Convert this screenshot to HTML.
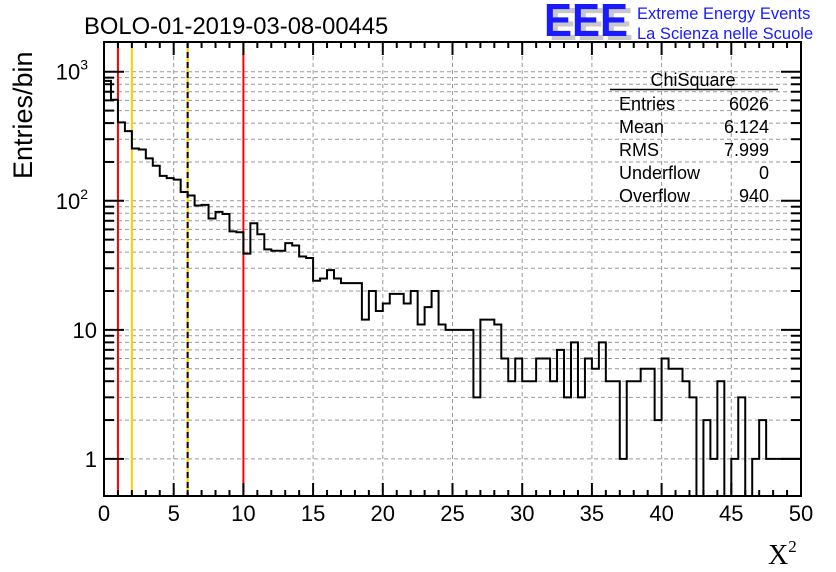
<!DOCTYPE html>
<html><head><meta charset="utf-8"><style>
body{margin:0;background:#fff;}
svg{display:block;font-family:"Liberation Sans",sans-serif;}
</style></head><body>
<svg id="chart" width="836" height="572" viewBox="0 0 836 572" xmlns="http://www.w3.org/2000/svg">
<rect width="836" height="572" fill="#fff"/>
<g id="grid"></g>
<g id="cuts"></g>
<path id="hist" fill="none" stroke="#000" stroke-width="2"/>
<g id="axes"></g>
<text x="84" y="34" font-size="23.8">BOLO-01-2019-03-08-00445</text>
<g>
<text x="549" y="40" font-size="46" font-weight="bold" fill="#c8c8c8" textLength="84" lengthAdjust="spacingAndGlyphs">EEE</text>
<text x="544" y="36" font-size="46" font-weight="bold" fill="#1a1aff" textLength="84" lengthAdjust="spacingAndGlyphs">EEE</text>
<text x="637" y="19" font-size="16.5" fill="#1a1aff">Extreme Energy Events</text>
<text x="637" y="39" font-size="16.5" fill="#1a1aff">La Scienza nelle Scuole</text>
</g>
<g font-size="18">
<text x="693" y="86" text-anchor="middle">ChiSquare</text>
<line x1="610" y1="89.5" x2="778" y2="89.5" stroke="#000" stroke-width="1.5"/>
<text x="619" y="110">Entries</text><text x="769" y="110" text-anchor="end">6026</text>
<text x="619" y="133">Mean</text><text x="769" y="133" text-anchor="end">6.124</text>
<text x="619" y="156">RMS</text><text x="769" y="156" text-anchor="end">7.999</text>
<text x="619" y="179">Underflow</text><text x="769" y="179" text-anchor="end">0</text>
<text x="619" y="202">Overflow</text><text x="769" y="202" text-anchor="end">940</text>
</g>
<text transform="translate(32,179) rotate(-90)" font-size="27">Entries/bin</text>
<text x="768" y="564" font-size="28" font-family="Liberation Serif, serif">X<tspan font-size="17" dy="-12">2</tspan></text>
</svg>
<script>
const counts=[850,607,405,347,254,250,213,187,156,150,146,117,110,92,93,73,82,79,58,57,39,67,55,42,41,41,47,45,37,36,24,25,29,25,23,23,23,12,20,14,16,19,19,16,20,11,15,20,11,10,10,10,10,3,12,12,11,6,4,6,4,4,6,6,4,7,3,8,3,6,5,8,4,4,1,4,4,5,5,2,6,5,5,4,3,0,2,1,4,0,1,3,0,1,2,1,1,1,1,1];
const xTicks=[0,5,10,15,20,25,30,35,40,45,50];
const yDecades=[1,10,100,1000];
const yDecadeLabels=["1","10","10²","10³"];
const cutValues=[1,2,6,10];
const cutColors=["#f00","#fc0","dash","#f00"];
const X0=104,X1=801,Y0=496,YT=42,XMAX=50,BW=0.5,LMIN=Math.log10(0.516),LMAX=Math.log10(1700);
const sx=v=>X0+(X1-X0)*v/XMAX;
const sy=v=>v<=0?Y0:Y0-(Y0-YT)*(Math.log10(v)-LMIN)/(LMAX-LMIN);
const NS="http://www.w3.org/2000/svg";
function mk(tag,attrs,parent){const e=document.createElementNS(NS,tag);for(const k in attrs)e.setAttribute(k,attrs[k]);parent.appendChild(e);return e;}
const grid=document.getElementById('grid'),axes=document.getElementById('axes'),cuts=document.getElementById('cuts');
xTicks.slice(1,-1).forEach(t=>{const l=mk('line',{x1:sx(t),x2:sx(t),y1:YT,y2:Y0,stroke:'#999','stroke-dasharray':'4,3'},grid);

});
yDecades.forEach(d=>{for(let m=1;m<10;m++){const v=d*m;const y=sy(v);if(y<YT||y>Y0)continue;
const l=mk('line',{x1:X0,x2:X1,y1:y,y2:y,stroke:'#999','stroke-dasharray':'4,3'},grid);


const len=m===1?20:10;
mk('line',{x1:X0,x2:X0+len,y1:y,y2:y,stroke:'#000','stroke-width':2},axes);
mk('line',{x1:X1,x2:X1-len,y1:y,y2:y,stroke:'#000','stroke-width':2},axes);}});
yDecades.forEach((d,i)=>{const t=mk('text',{x:i<2?97:98,y:sy(d)+8,'font-size':22,'text-anchor':'end'},axes);


if(i<2)t.textContent=yDecadeLabels[i];else{t.textContent='10';const s=mk('tspan',{'font-size':14,dy:-10},t);s.textContent=String(i);t.setAttribute('x',88);}});
cutValues.forEach((v,i)=>{const x=sx(v);
if(cutColors[i]==='dash'){mk('line',{x1:x,x2:x,y1:YT,y2:Y0,stroke:'#fc0','stroke-width':2},cuts);
const l=mk('line',{x1:x,x2:x,y1:YT,y2:Y0,stroke:'#000','stroke-width':2,'stroke-dasharray':'6,4'},cuts);

}
else{const l=mk('line',{x1:x,x2:x,y1:YT,y2:Y0,stroke:cutColors[i],'stroke-width':2},cuts);

}});
let d='M'+sx(0)+','+Y0;
counts.forEach((c,i)=>{const y=Math.max(YT,sy(c));d+=' L'+sx(i*BW)+','+y+' L'+sx((i+1)*BW)+','+y;});
d+=' L'+sx(counts.length*BW)+','+Y0;
document.getElementById('hist').setAttribute('d',d);
mk('rect',{x:X0,y:YT,width:X1-X0,height:Y0-YT,fill:'none',stroke:'#000','stroke-width':2},axes);
for(let v=0;v<=XMAX;v++){const x=sx(v);const len=v%5===0?13:6;
mk('line',{x1:x,x2:x,y1:Y0,y2:Y0-len,stroke:'#000','stroke-width':2},axes);
mk('line',{x1:x,x2:x,y1:YT,y2:YT+len,stroke:'#000','stroke-width':2},axes);}
xTicks.forEach(t=>{const e=mk('text',{x:sx(t),y:521,'font-size':22,'text-anchor':'middle'},axes);e.textContent=String(t);

});
</script>
</body></html>
